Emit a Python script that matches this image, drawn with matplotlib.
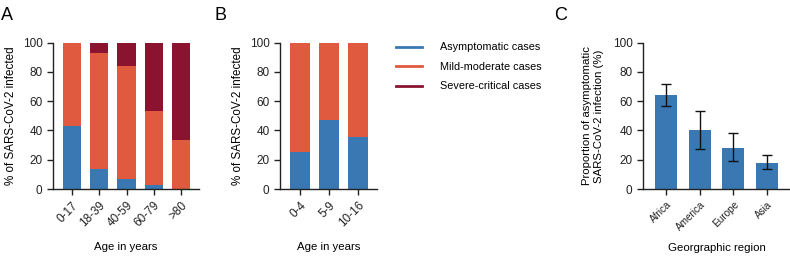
import matplotlib
matplotlib.use("Agg")
import matplotlib.pyplot as plt
from matplotlib.lines import Line2D
import numpy as np

plt.rcParams['font.family'] = ['Liberation Sans', 'DejaVu Sans']
plt.rcParams['font.size'] = 8

# Data
age_groups_a = ['0-17', '18-39', '40-59', '60-79', '>80']
asym_a = [43, 13.5, 6.5, 3, 0]
mild_a = [57, 79.5, 77.5, 50.5, 33.5]
severe_a = [0, 7, 16, 46.5, 66.5]

age_groups_b = ['0-4', '5-9', '10-16']
asym_b = [25, 47, 35.5]
mild_b = [75, 53, 64.5]

regions_c = ['Africa', 'America', 'Europe', 'Asia']
prop_c = [64.5, 40, 28, 18]
err_low_c = [57, 27.5, 19, 13.5]
err_high_c = [71.5, 53.5, 38, 23.5]

legend_labels = ['Asymptomatic cases', 'Mild-moderate cases', 'Severe-critical cases']

BLUE = '#3a78b4'
ORANGE = '#e05a40'
DARK = '#8a1430'

fig = plt.figure(figsize=(7.9, 2.58), dpi=100)

def style(ax, labelsize=8.5):
    ax.spines['top'].set_visible(False)
    ax.spines['right'].set_visible(False)
    for s in ['left', 'bottom']:
        ax.spines[s].set_linewidth(1.0)
        ax.spines[s].set_color('#222222')
    ax.tick_params(direction='out', length=4, width=1.0, colors='#222222', labelsize=labelsize)
    ax.set_ylim(0, 100)
    ax.set_yticks([0, 20, 40, 60, 80, 100])

H = 258.0
W = 790.0
bottom = 1 - 189 / H
top = 1 - 42.7 / H

# Panel A
axA = fig.add_axes([53 / W, bottom, (199 - 53) / W, top - bottom])
x = np.arange(len(age_groups_a))
w = 0.67
axA.bar(x, asym_a, w, color=BLUE, edgecolor='none')
axA.bar(x, mild_a, w, bottom=asym_a, color=ORANGE, edgecolor='none')
axA.bar(x, severe_a, w, bottom=np.array(asym_a) + np.array(mild_a), color=DARK, edgecolor='none')
style(axA)
axA.set_xlim(-0.7, 4.66)
axA.set_xticks(x)
axA.set_xticklabels(age_groups_a, rotation=45, ha='right', rotation_mode='anchor')
axA.set_ylabel('% of SARS-CoV-2 infected', fontsize=8.4)
axA.set_xlabel('Age in years', fontsize=8.2, labelpad=9)
fig.text(1 / W, 1 - 20 / H, 'A', fontsize=13)

# Panel B
axB = fig.add_axes([280 / W, bottom, (377 - 280) / W, top - bottom])
xb = np.arange(len(age_groups_b))
wb = 0.69
axB.bar(xb, asym_b, wb, color=BLUE, edgecolor='none')
axB.bar(xb, mild_b, wb, bottom=asym_b, color=ORANGE, edgecolor='none')
style(axB)
axB.set_xlim(-0.69, 2.66)
axB.set_xticks(xb)
axB.set_xticklabels(age_groups_b, rotation=45, ha='right', rotation_mode='anchor')
axB.set_ylabel('% of SARS-CoV-2 infected', fontsize=8.4)
axB.set_xlabel('Age in years', fontsize=8.2, labelpad=9)
fig.text(215 / W, 1 - 20 / H, 'B', fontsize=13)

# Legend
handles = [Line2D([0], [0], color=c, lw=2) for c in [BLUE, ORANGE, DARK]]
fig.legend(handles, legend_labels, loc='upper left', bbox_to_anchor=(392 / W, 1 - 38 / H),
           frameon=False, fontsize=7.8, handlelength=2.4, handletextpad=1.6,
           labelspacing=0.88, borderaxespad=0)

# Panel C
axC = fig.add_axes([643 / W, bottom, (790 - 643) / W, top - bottom])
xc = np.arange(len(regions_c))
yerr = [np.array(prop_c) - np.array(err_low_c), np.array(err_high_c) - np.array(prop_c)]
axC.bar(xc, prop_c, 0.66, color=BLUE, edgecolor='none')
axC.errorbar(xc, prop_c, yerr=yerr, fmt='none', ecolor='#111111', elinewidth=1.0, capsize=3.5, capthick=1.0)
style(axC)
axC.set_xlim(-0.68, 3.68)
axC.set_xticks(xc)
axC.set_xticklabels(regions_c, rotation=45, ha='right', rotation_mode='anchor', fontsize=7.2)
axC.set_ylabel('Proportion of asymptomatic\nSARS-CoV-2 infection (%)', fontsize=8.2,
               linespacing=1.35, labelpad=6)
axC.set_xlabel('Georgraphic region', fontsize=8.2, labelpad=8)
fig.text(554 / W, 1 - 20 / H, 'C', fontsize=13)

fig.savefig('out.png', dpi=100)
